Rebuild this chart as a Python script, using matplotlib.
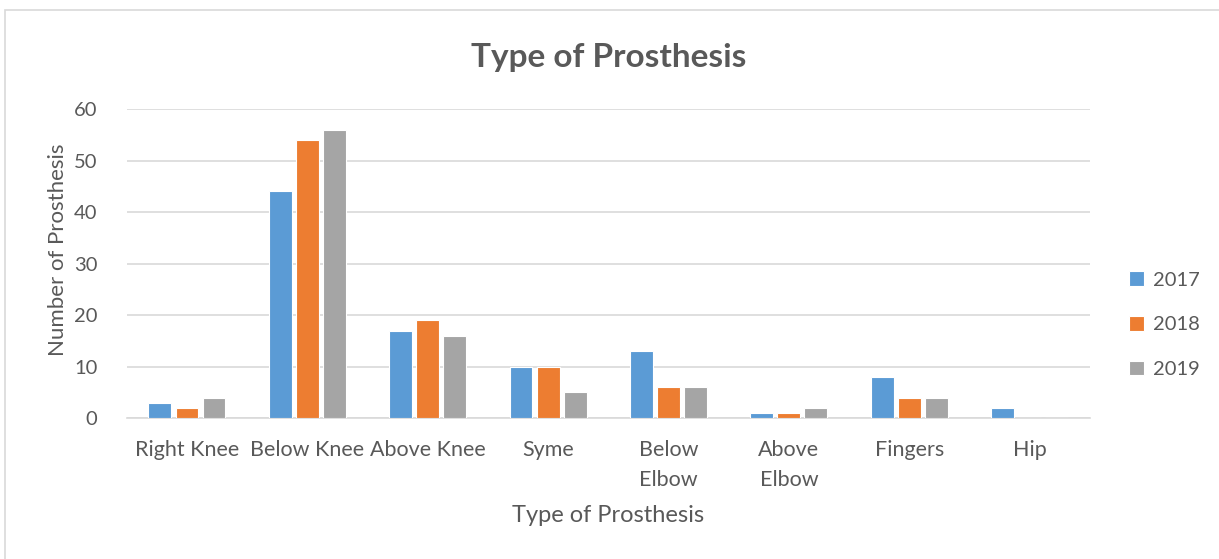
import matplotlib
matplotlib.use("Agg")
import matplotlib.pyplot as plt
from matplotlib.patches import Rectangle
import numpy as np

categories = ["Right Knee", "Below Knee", "Above Knee", "Syme", "Below\nElbow", "Above\nElbow", "Fingers", "Hip"]
series_names = ["2017", "2018", "2019"]
v2017 = [3, 44, 17, 10, 13, 1, 8, 2]
v2018 = [2, 54, 19, 10, 6, 1, 4, 0]
v2019 = [4, 56, 16, 5, 6, 2, 4, 0]
colors = ["#5B9BD5", "#ED7D31", "#A5A5A5"]

plt.rcParams['font.family'] = ['Lato', 'DejaVu Sans']
txt = "#595959"

fig = plt.figure(figsize=(12.19, 5.59), dpi=100)
ax = fig.add_axes([0.104, 0.252, 0.790, 0.553])

x = np.arange(len(categories))
step = 0.225
w = 0.19
for i, (vals, name) in enumerate(zip([v2017, v2018, v2019], series_names)):
    ax.bar(x + (i - 1) * step, vals, width=w, color=colors[i], label=name,
           edgecolor="white", linewidth=0.8, zorder=3)

ax.set_xlim(-0.5, len(categories) - 0.5)
ax.set_ylim(0, 60)
ax.set_yticks(range(0, 61, 10))
ax.yaxis.grid(True, color="#D9D9D9", linewidth=1.2, zorder=0)
for s in ["top", "right", "left"]:
    ax.spines[s].set_visible(False)
ax.spines["bottom"].set_color("#D9D9D9")
ax.spines["bottom"].set_linewidth(1.2)
ax.tick_params(axis="both", length=0, colors=txt)
ax.tick_params(axis="x", pad=16, labelsize=15.5)
ax.tick_params(axis="y", pad=21, labelsize=14.5)
ax.set_xticks(x)
ax.set_xticklabels(categories, linespacing=1.6)

ax.set_title("Type of Prosthesis", fontsize=24, fontweight="bold", color=txt, pad=30)
ax.set_xlabel("Type of Prosthesis", fontsize=17, color=txt, labelpad=11)
ax.set_ylabel("Number of Prosthesis", fontsize=16, color=txt)
ax.yaxis.set_label_coords(-0.061, 0.545)

leg = ax.legend(loc="center left", bbox_to_anchor=(1.022, 0.302), frameon=False,
                fontsize=14.5, labelcolor=txt, handlelength=0.75, handleheight=0.75,
                handletextpad=0.45, labelspacing=1.35)

fig.patches.append(Rectangle((0.004, -0.01), 1.1, 0.992, transform=fig.transFigure,
                             fill=False, edgecolor="#D9D9D9", linewidth=1.2))

fig.savefig("out.png", dpi=100)
